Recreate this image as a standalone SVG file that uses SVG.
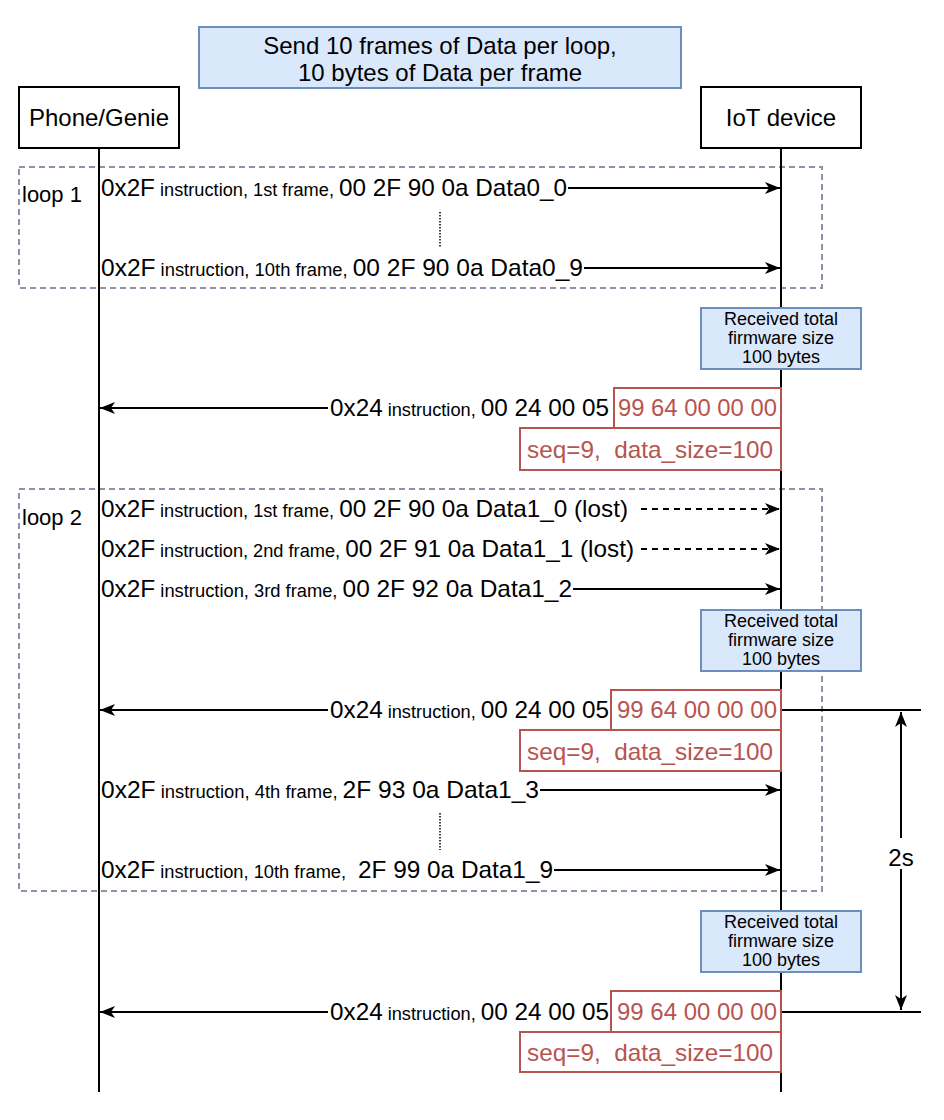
<svg xmlns="http://www.w3.org/2000/svg" width="944" height="1120" viewBox="0 0 944 1120">
<style>
text{font-family:"Liberation Sans",Arial,Helvetica,sans-serif;fill:#000}
.big{font-size:24px}
.sm{font-size:18px}
.rt{font-size:24px;fill:#b85450}
.note{font-size:18px}
.actor{fill:#fff;stroke:#000;stroke-width:2}
.blue{fill:#dae8fc;stroke:#6c8ebf;stroke-width:2}
.red{fill:#fff;stroke:#b85450;stroke-width:2}
.loop{fill:none;stroke:#958ea6;stroke-width:2;stroke-dasharray:6 4}
.life{stroke:#000;stroke-width:2;fill:none}
.msg{stroke:#000;stroke-width:2;fill:none;marker-end:url(#arr)}
.dash{stroke-dasharray:6 5}
.dots{stroke:#000;stroke-width:1.5;stroke-dasharray:1.5 1.5;fill:none}
</style>
<defs>
<marker id="arr" markerUnits="userSpaceOnUse" markerWidth="16" markerHeight="14" refX="15" refY="7" orient="auto-start-reverse">
<path d="M0,1 L15,7 L0,13 L4,7 Z" fill="#000"/>
</marker>
</defs>
<rect width="944" height="1120" fill="#fff"/>

<g id="title">
<rect class="blue" x="199" y="27" width="482" height="61"/>
<text class="big" x="440" y="54" text-anchor="middle">Send 10 frames of Data per loop,</text>
<text class="big" x="440" y="81" text-anchor="middle">10 bytes of Data per frame</text>
</g>

<g id="loop1">
<rect class="loop" x="19" y="167" width="803" height="121"/>
<text x="22" y="202" style="font-size:22px">loop 1</text>
</g>
<g id="loop2">
<rect class="loop" x="19" y="489" width="803" height="402"/>
<text x="22" y="525" style="font-size:22px">loop 2</text>
</g>

<g id="lifelines">
<line class="life" x1="99" y1="148" x2="99" y2="1092"/>
<line class="life" x1="781" y1="148" x2="781" y2="1092"/>
</g>

<g id="phone">
<rect class="actor" x="19" y="87" width="160" height="61"/>
<text class="big" x="99" y="126" text-anchor="middle">Phone/Genie</text>
</g>
<g id="iot">
<rect class="actor" x="701" y="87" width="160" height="61"/>
<text class="big" x="781" y="126" text-anchor="middle">IoT device</text>
</g>

<g id="connectors">
<line class="msg" x1="568" y1="188" x2="780" y2="188"/>
<line class="msg" x1="584" y1="268" x2="780" y2="268"/>
<line class="dots" x1="440" y1="212" x2="440" y2="248"/>
<line class="msg" x1="328" y1="408" x2="100" y2="408"/>
<line class="msg dash" x1="641" y1="509" x2="780" y2="509"/>
<line class="msg dash" x1="641" y1="549" x2="780" y2="549"/>
<line class="msg" x1="573" y1="589" x2="780" y2="589"/>
<line class="msg" x1="328" y1="710" x2="100" y2="710"/>
<line class="msg" x1="540" y1="790" x2="780" y2="790"/>
<line class="dots" x1="440" y1="813" x2="440" y2="850"/>
<line class="msg" x1="554" y1="870" x2="780" y2="870"/>
<line class="msg" x1="328" y1="1012" x2="100" y2="1012"/>
<line class="life" x1="781" y1="710" x2="921" y2="710"/>
<line class="life" x1="781" y1="1012" x2="921" y2="1012"/>
<line class="life" x1="901" y1="712" x2="901" y2="1010" style="marker-start:url(#arr);marker-end:url(#arr)"/>
</g>

<g id="msg-texts">
<text x="101" y="196" textLength="466" lengthAdjust="spacingAndGlyphs"><tspan class="big">0x2F</tspan><tspan class="sm"> instruction, 1st frame, </tspan><tspan class="big">00 2F 90 0a Data0_0</tspan></text>
<text x="101" y="276" textLength="482" lengthAdjust="spacingAndGlyphs"><tspan class="big">0x2F</tspan><tspan class="sm"> instruction, 10th frame, </tspan><tspan class="big">00 2F 90 0a Data0_9</tspan></text>
<text x="101" y="517" textLength="527" lengthAdjust="spacingAndGlyphs"><tspan class="big">0x2F</tspan><tspan class="sm"> instruction, 1st frame, </tspan><tspan class="big">00 2F 90 0a Data1_0 (lost)</tspan></text>
<text x="101" y="557" textLength="533" lengthAdjust="spacingAndGlyphs"><tspan class="big">0x2F</tspan><tspan class="sm"> instruction, 2nd frame, </tspan><tspan class="big">00 2F 91 0a Data1_1 (lost)</tspan></text>
<text x="101" y="597" textLength="471" lengthAdjust="spacingAndGlyphs"><tspan class="big">0x2F</tspan><tspan class="sm"> instruction, 3rd frame, </tspan><tspan class="big">00 2F 92 0a Data1_2</tspan></text>
<text x="101" y="798" textLength="438" lengthAdjust="spacingAndGlyphs"><tspan class="big">0x2F</tspan><tspan class="sm"> instruction, 4th frame, </tspan><tspan class="big">2F 93 0a Data1_3</tspan></text>
<text x="101" y="878" textLength="452" lengthAdjust="spacingAndGlyphs" xml:space="preserve"><tspan class="big">0x2F</tspan><tspan class="sm"> instruction, 10th frame, </tspan><tspan class="big"> 2F 99 0a Data1_9</tspan></text>
<text x="330" y="416" textLength="279" lengthAdjust="spacingAndGlyphs"><tspan class="big">0x24</tspan><tspan class="sm"> instruction, </tspan><tspan class="big">00 24 00 05</tspan></text>
<text x="330" y="718" textLength="279" lengthAdjust="spacingAndGlyphs"><tspan class="big">0x24</tspan><tspan class="sm"> instruction, </tspan><tspan class="big">00 24 00 05</tspan></text>
<text x="330" y="1020" textLength="279" lengthAdjust="spacingAndGlyphs"><tspan class="big">0x24</tspan><tspan class="sm"> instruction, </tspan><tspan class="big">00 24 00 05</tspan></text>
</g>

<g id="resp1">
<rect class="red" x="614" y="388" width="167" height="40"/>
<text class="rt" x="618" y="416" textLength="159" lengthAdjust="spacingAndGlyphs">99 64 00 00 00</text>
<rect class="red" x="520" y="428" width="261" height="42"/>
<text class="rt" x="527" y="458" textLength="246" lengthAdjust="spacingAndGlyphs" xml:space="preserve">seq=9,  data_size=100</text>
</g>
<g id="resp2">
<rect class="red" x="611" y="690" width="170" height="40"/>
<text class="rt" x="617" y="718" textLength="160" lengthAdjust="spacingAndGlyphs">99 64 00 00 00</text>
<rect class="red" x="520" y="730" width="261" height="41"/>
<text class="rt" x="527" y="760" textLength="246" lengthAdjust="spacingAndGlyphs" xml:space="preserve">seq=9,  data_size=100</text>
</g>
<g id="resp3">
<rect class="red" x="611" y="991" width="170" height="41"/>
<text class="rt" x="617" y="1020" textLength="160" lengthAdjust="spacingAndGlyphs">99 64 00 00 00</text>
<rect class="red" x="520" y="1032" width="261" height="40"/>
<text class="rt" x="527" y="1061" textLength="246" lengthAdjust="spacingAndGlyphs" xml:space="preserve">seq=9,  data_size=100</text>
</g>

<g id="recv1">
<rect class="blue" x="701" y="308" width="160" height="61"/>
<text class="note" x="781" y="325" text-anchor="middle">Received total</text>
<text class="note" x="781" y="344" text-anchor="middle">firmware size</text>
<text class="note" x="781" y="363" text-anchor="middle">100 bytes</text>
</g>
<g id="recv2">
<rect class="blue" x="701" y="610" width="160" height="61"/>
<text class="note" x="781" y="627" text-anchor="middle">Received total</text>
<text class="note" x="781" y="646" text-anchor="middle">firmware size</text>
<text class="note" x="781" y="665" text-anchor="middle">100 bytes</text>
</g>
<g id="recv3">
<rect class="blue" x="701" y="911" width="160" height="61"/>
<text class="note" x="781" y="928" text-anchor="middle">Received total</text>
<text class="note" x="781" y="947" text-anchor="middle">firmware size</text>
<text class="note" x="781" y="966" text-anchor="middle">100 bytes</text>
</g>

<g id="label-2s">
<rect x="888" y="838" width="26" height="31" fill="#fff"/>
<text class="big" x="901" y="866" text-anchor="middle">2s</text>
</g>
</svg>
